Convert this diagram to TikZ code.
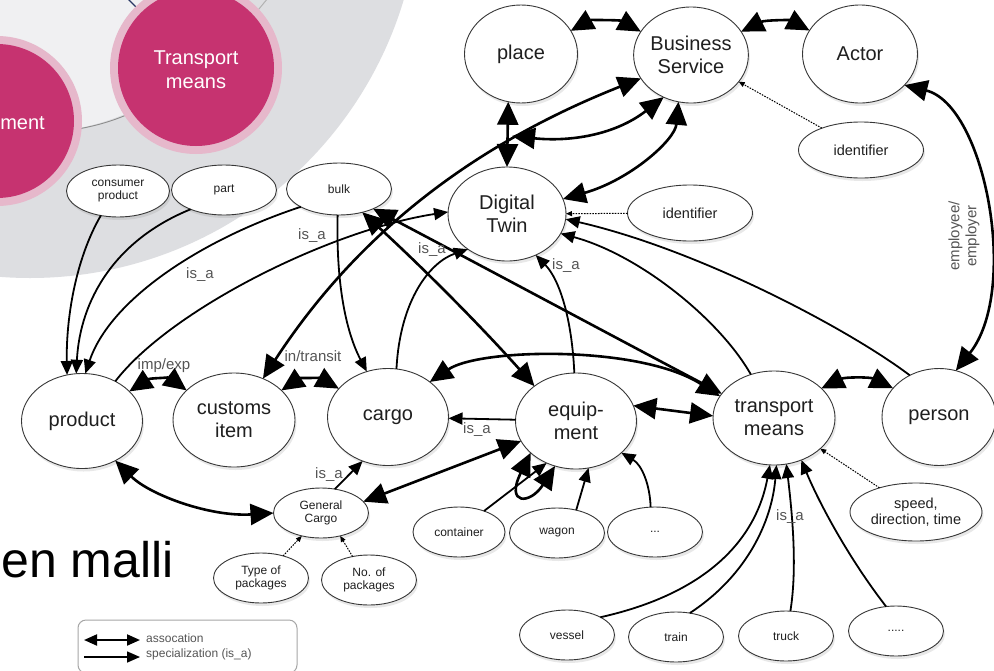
\documentclass[tikz,border=0pt]{standalone}
\usepackage{fontspec}
\setmainfont{Liberation Sans}
\usetikzlibrary{shapes.geometric,arrows.meta,shadows}
\definecolor{ringgray}{RGB}{221,222,225}
\definecolor{innergray}{RGB}{240,240,242}
\definecolor{magen}{RGB}{198,51,112}
\definecolor{halo}{RGB}{230,184,203}
\definecolor{edgegray}{RGB}{55,55,55}
\definecolor{labelgray}{RGB}{85,85,85}
\definecolor{navyline}{RGB}{40,55,100}
\tikzset{
 ent/.style={ellipse, draw=edgegray, line width=0.9pt, fill=white, inner sep=0pt, outer sep=0pt, align=center, text=black!88,
   drop shadow={opacity=0.18, shadow xshift=1.5pt, shadow yshift=-3pt}},
 big/.style={ent, minimum width=120pt, minimum height=96pt, font=\fontsize{20}{23}\selectfont},
 small/.style={ent, minimum width=95pt, minimum height=50pt, font=\fontsize{12}{13.5}\selectfont},
 mid/.style={ent, minimum width=125pt, minimum height=56pt, font=\fontsize{14.5}{16.5}\selectfont},
 assoc/.style={line width=2.6pt, {Triangle[length=23pt,width=21pt]}-{Triangle[length=23pt,width=21pt]}},
 isa/.style={line width=1.8pt, -{Triangle[length=14pt,width=12pt]}},
 attr/.style={line width=1pt, dash pattern=on 1.6pt off 1.2pt, -{Triangle[length=6pt,width=5pt]}},
 lbl/.style={font=\fontsize{15}{17}\selectfont, text=labelgray, inner sep=0pt},
 legtext/.style={anchor=west, font=\fontsize{12}{13}\selectfont, text=labelgray, inner sep=0pt},
}
\begin{document}
\begin{tikzpicture}[x=1pt,y=-1pt]
\useasboundingbox (0,0) rectangle (994,670);
\clip (0,0) rectangle (994,670);
\fill[white] (0,0) rectangle (994,670);
% background ring
\fill[ringgray] (30,-112) circle (390);
\fill[innergray] (30,-112) circle (245);
\draw[navyline, line width=1.4pt] (127,-2) -- (141,12);
\draw[black!30, line width=1pt] (268,-2) -- (254,15);
\draw[black!45, line width=0.9pt] (78,129) .. controls (100,125) and (115,120) .. (131,113);
\fill[halo] (196,68) circle (86);
\fill[magen] (196,68) circle (78);
\fill[halo] (-3,121) circle (85);
\fill[magen] (-3,121) circle (77);
\node[font=\fontsize{20}{24}\selectfont, text=white, align=center] (tmc) at (196,70) {Transport\\means};
\node[anchor=east, font=\fontsize{20}{24}\selectfont, text=white, inner sep=0pt] (eqc) at (45,123) {ment};
\node[anchor=base west, font=\fontsize{50}{58}\selectfont, inner sep=0pt] (title) at (1,577) {en malli};

% nodes
\node[big, minimum width=113pt, minimum height=98pt] (place) at (521,54) {place};
\node[big, minimum width=113pt] (bs) at (691,55) {Business\\Service};
\node[big, minimum width=115pt, minimum height=98pt] (actor) at (860,54) {Actor};
\node[mid] (idr) at (861,150) {identifier};
\node[big, minimum width=118pt, minimum height=94pt] (dt) at (507,214) {Digital\\Twin};
\node[mid] (idm) at (690,213) {identifier};
\node[small, minimum width=103pt, minimum height=52pt] (cons) at (118,191) {consumer\\product};
\node[small, minimum width=105pt] (part) at (224,190) {part};
\node[small, minimum width=105pt, minimum height=52pt] (bulk) at (339,189) {bulk};
\node[big, minimum width=121pt, minimum height=95pt] (product) at (82,421) {product};
\node[big, minimum width=122pt, minimum height=94pt] (customs) at (234,420) {customs\\item};
\node[big, minimum width=121pt, minimum height=97pt] (cargo) at (388,417) {cargo};
\node[big, minimum width=121pt, minimum height=96pt] (equip) at (576,421) {equip-\\ment};
\node[big, minimum width=122pt, minimum height=94pt] (tm) at (774,418) {transport\\means};
\node[big, minimum width=114pt, minimum height=97pt] (person) at (939,417) {person};
\node[small] (gc) at (321,513) {General\\Cargo};
\node[small] (tpk) at (261,578) {Type of\\packages};
\node[small] (nop) at (369,580) {No. of\\packages};
\node[small, minimum width=92pt] (cont) at (459,532) {container};
\node[small] (wagon) at (557,533) {wagon};
\node[small] (dots1) at (655,532) {...};
\node[mid, minimum width=132pt, minimum height=58pt] (speed) at (916,512) {speed,\\direction, time};
\node[small] (vessel) at (567,635) {vessel};
\node[small] (train) at (676,637) {train};
\node[small] (truck) at (786,636) {truck};
\node[small] (dots2) at (896,631) {.....};

% associations
\draw[assoc] (place.25) .. controls (590,20) and (620,20) .. (bs.155);
\draw[assoc] (bs.25) .. controls (765,20) and (790,20) .. (actor.155);
\draw[assoc] (place.255) -- (dt.90);
\draw[assoc] (bs.255) .. controls (675,140) and (630,180) .. (dt.15);
\coordinate (pd) at (512,136);
\draw[assoc] (bs.237) .. controls (615,135) and (570,142) .. (pd);
\draw[assoc] (customs.55) .. controls (350,245) and (460,150) .. (bs.205);
\draw[assoc] (bulk.-45) .. controls (420,265) and (480,325) .. (equip.140);
\draw[assoc] (bulk.-30) .. controls (480,265) and (620,340) .. (tm.155);
\draw[assoc] (cargo.40) .. controls (480,348) and (640,345) .. (tm.158);
\draw[assoc] (equip.15) -- (tm.178);
\draw[assoc] (tm.32) .. controls (845,377) and (870,377) .. (person.148);
\draw[assoc] (actor.-35) .. controls (985,105) and (1020,290) .. (person.70);
\draw[assoc] (product.32) .. controls (150,378) and (170,378) .. (customs.148);
\draw[assoc] (customs.32) .. controls (300,378) and (320,378) .. (cargo.150);
\draw[assoc] (product.-50) .. controls (150,495) and (210,517) .. (gc.180);
\draw[assoc] (gc.15) -- (equip.200);
\draw[assoc] (equip.215) .. controls (505,505) and (530,505) .. (equip.245);

% specializations
\draw[isa] (cons.-125) .. controls (75,260) and (66,320) .. (product.108);
\draw[isa] (part.-150) .. controls (115,240) and (80,300) .. (product.97);
\draw[isa] (bulk.-155) .. controls (200,240) and (110,300) .. (product.86);
\draw[isa] (product.50) .. controls (170,310) and (330,230) .. (dt.178);
\draw[isa] (bulk.-93) .. controls (336,280) and (345,330) .. (cargo.115);
\draw[isa] (cargo.80) .. controls (400,300) and (430,262) .. (dt.222);
\draw[isa] (equip.92) .. controls (572,320) and (560,280) .. (dt.305);
\draw[isa] (tm.118) .. controls (720,320) and (640,255) .. (dt.-20);
\draw[isa] (person.125) .. controls (850,330) and (700,250) .. (dt.-5);
\draw[isa] (equip) -- (cargo);
\draw[isa] (gc.60) -- (cargo.240);
\draw[isa] (cont.40) -- (equip.235);
\draw[isa] (wagon.50) -- (equip.-75);
\draw[isa] (dots1.100) .. controls (650,485) and (642,465) .. (equip.-35);
\draw[isa] (vessel.28) .. controls (700,595) and (755,545) .. (tm.265);
\draw[isa] (train.60) .. controls (748,575) and (772,520) .. (tm.273);
\draw[isa] (truck.80) .. controls (797,570) and (793,520) .. (tm.285);
\draw[isa] (dots2.112) .. controls (850,560) and (820,505) .. (tm.303);

% attributes
\draw[attr] (idr) -- (bs);
\draw[attr] (idm) -- (dt);
\draw[attr] (speed) -- (tm);
\draw[attr] (tpk.45) -- (gc.-130);
\draw[attr] (nop.125) -- (gc.-50);

% labels
\node[lbl] (l1) at (200,275) {is\_a};
\node[lbl] (l2) at (312,236) {is\_a};
\node[lbl] (l3) at (432,250) {is\_a};
\node[lbl] (l4) at (566,266) {is\_a};
\node[lbl] (l5) at (313,356) {in/transit};
\node[lbl] (l6) at (164,366) {imp/exp};
\node[lbl] (l7) at (477,430) {is\_a};
\node[lbl] (l8) at (329,475) {is\_a};
\node[lbl] (l9) at (790,517) {is\_a};
\node[lbl, rotate=90, align=center] (l10) at (964,236) {employee/\\employer};

% legend
\draw[rounded corners=8pt, draw=black!35, line width=1pt, fill=white] (78,620) rectangle (297,673);
\coordinate (la1) at (84,640); \coordinate (lb1) at (140,640);
\coordinate (la2) at (84,657); \coordinate (lb2) at (140,657);
\draw[line width=2pt, {Triangle[length=13pt,width=11pt]}-{Triangle[length=13pt,width=11pt]}] (la1) -- (lb1);
\draw[line width=1.6pt, -{Triangle[length=13pt,width=11pt]}] (la2) -- (lb2);
\node[legtext] (lg1) at (146,638) {assocation};
\node[legtext] (lg2) at (146,654) {specialization (is\_a)};
\end{tikzpicture}
\end{document}
